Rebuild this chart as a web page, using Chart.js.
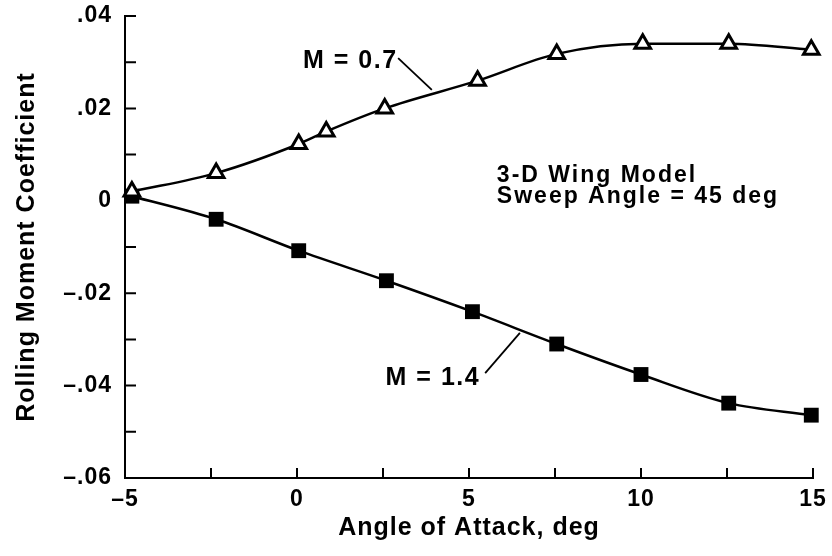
<!DOCTYPE html>
<html>
<head>
<meta charset="utf-8">
<script src="https://cdn.jsdelivr.net/npm/chart.js@4/dist/chart.umd.min.js"></script>
<style>
  html, body { margin: 0; padding: 0; background: #fff; }
  #wrap { width: 832px; height: 556px; position: relative; }
</style>
</head>
<body>
<div id="wrap"><canvas id="chart"></canvas></div>
<script>
// ---------- datos ----------
const alfaM07 = [-4.8, -2.35, 0.05, 0.85, 2.55, 5.25, 7.55, 10.05, 12.55, 14.95];
const clM07   = [0.002, 0.006, 0.0123, 0.015, 0.020, 0.026, 0.0318, 0.034, 0.034, 0.0327];

const alfaM14 = [-4.8, -2.35, 0.05, 2.6, 5.1, 7.55, 10.0, 12.55, 14.95];
const clM14   = [0.001, -0.004, -0.0108, -0.0173, -0.024, -0.031, -0.0376, -0.0438, -0.0464];

const xTickValores = [-5, 0, 5, 10, 15];
const xTickTextos  = ['–5', '0', '5', '10', '15'];
const yTickValores = [0.04, 0.02, 0, -0.02, -0.04, -0.06];
const yTickTextos  = ['.04', '.02', '0', '–.02', '–.04', '–.06'];

// rótulos sobre la gráfica (coordenadas en datos, y = línea base del texto)
const rotulos = [
  { texto: 'M = 0.7', x: 1.55, y: 0.0287, align: 'center', tam: 25, esp: 1.5, linea: [2.94, 0.0309, 3.92, 0.024] },
  { texto: 'M = 1.4', x: 3.95, y: -0.0399, align: 'center', tam: 25, esp: 1.5, linea: [5.47, -0.0373, 6.48, -0.0286] },
  { texto: '3-D Wing Model', x: 5.81, y: 0.0041, align: 'left', tam: 23, esp: 2 },
  { texto: 'Sweep Angle = 45 deg', x: 5.81, y: -0.0005, align: 'left', tam: 23, esp: 2 }
];

const FUENTE = '"Liberation Sans", Arial, Helvetica, sans-serif';

function pares(xs, ys) { return xs.map((x, i) => ({ x, y: ys[i] })); }

function etiqueta(valores, textos, v) {
  const i = valores.findIndex(t => Math.abs(t - v) < 1e-6);
  return i >= 0 ? textos[i] : '';
}

// letra algo más ancha, como en el original escaneado
const espaciado = {
  id: 'espaciado',
  beforeDraw(chart) {
    chart.ctx.letterSpacing = '1px';
  }
};

// marcas de escala hacia adentro
const marcasInternas = {
  id: 'marcasInternas',
  afterDraw(chart) {
    const ctx = chart.ctx;
    const { x, y } = chart.scales;
    ctx.save();
    ctx.strokeStyle = '#000';
    ctx.lineWidth = 2;
    ctx.beginPath();
    y.ticks.forEach(t => {
      const py = y.getPixelForValue(t.value);
      ctx.moveTo(x.left, py);
      ctx.lineTo(x.left + 11, py);
    });
    x.ticks.forEach(t => {
      const px = x.getPixelForValue(t.value);
      ctx.moveTo(px, y.bottom);
      ctx.lineTo(px, y.bottom - 10);
    });
    ctx.stroke();
    ctx.restore();
  }
};

// textos y líneas guía
const rotulosPlugin = {
  id: 'rotulosPlugin',
  afterDatasetsDraw(chart) {
    const ctx = chart.ctx;
    const { x, y } = chart.scales;
    ctx.save();
    ctx.fillStyle = '#000';
    ctx.strokeStyle = '#000';
    ctx.lineWidth = 1.8;
    ctx.textBaseline = 'alphabetic';
    rotulos.forEach(r => {
      ctx.font = 'bold ' + r.tam + 'px ' + FUENTE;
      ctx.letterSpacing = r.esp + 'px';
      ctx.textAlign = r.align;
      ctx.fillText(r.texto, x.getPixelForValue(r.x), y.getPixelForValue(r.y));
      if (r.linea) {
        ctx.beginPath();
        ctx.moveTo(x.getPixelForValue(r.linea[0]), y.getPixelForValue(r.linea[1]));
        ctx.lineTo(x.getPixelForValue(r.linea[2]), y.getPixelForValue(r.linea[3]));
        ctx.stroke();
      }
    });
    ctx.restore();
  }
};

new Chart(document.getElementById('chart'), {
  type: 'scatter',
  data: {
    datasets: [
      {
        label: 'M = 0.7',
        data: pares(alfaM07, clM07),
        showLine: true,
        borderColor: '#000',
        borderWidth: 2.5,
        cubicInterpolationMode: 'monotone',
        pointStyle: 'triangle',
        pointRadius: 9,
        pointBorderWidth: 3,
        pointBackgroundColor: '#fff',
        pointBorderColor: '#000',
        clip: false
      },
      {
        label: 'punto',
        data: pares(alfaM07, clM07),
        showLine: false,
        pointStyle: 'circle',
        pointRadius: 1,
        pointBackgroundColor: '#000',
        pointBorderWidth: 0,
        clip: false
      },
      {
        label: 'M = 1.4',
        data: pares(alfaM14, clM14),
        showLine: true,
        borderColor: '#000',
        borderWidth: 2.5,
        cubicInterpolationMode: 'monotone',
        pointStyle: 'rect',
        pointRadius: 10.5,
        pointBorderWidth: 0,
        pointBackgroundColor: '#000',
        clip: false
      }
    ]
  },
  options: {
    responsive: true,
    maintainAspectRatio: false,
    animation: false,
    layout: { padding: { top: 16, right: 19, left: 0, bottom: 0 } },
    plugins: {
      legend: { display: false },
      tooltip: { enabled: false }
    },
    scales: {
      x: {
        type: 'linear',
        min: -5,
        max: 15,
        afterFit: s => { s.height = 78; s.paddingLeft = 0; s.paddingRight = 0; },
        grid: { display: false, drawTicks: false },
        border: { display: true, color: '#000', width: 2 },
        ticks: {
          stepSize: 2.5,
          autoSkip: false,
          maxRotation: 0,
          padding: 8,
          color: '#000',
          font: { family: FUENTE, size: 23, weight: 'bold' },
          callback: v => etiqueta(xTickValores, xTickTextos, v)
        },
        title: {
          display: true,
          text: 'Angle of Attack, deg',
          color: '#000',
          font: { family: FUENTE, size: 25, weight: 'bold' },
          padding: { top: 13, bottom: 13 }
        }
      },
      y: {
        type: 'linear',
        min: -0.06,
        max: 0.04,
        afterFit: s => { s.width = 125; s.paddingTop = 0; s.paddingBottom = 0; },
        grid: { display: false, drawTicks: false },
        border: { display: true, color: '#000', width: 2 },
        ticks: {
          stepSize: 0.01,
          autoSkip: false,
          padding: 13,
          color: '#000',
          font: { family: FUENTE, size: 23, weight: 'bold' },
          callback: v => etiqueta(yTickValores, yTickTextos, v)
        },
        title: {
          display: true,
          text: 'Rolling Moment Coefficient',
          color: '#000',
          font: { family: FUENTE, size: 25, weight: 'bold' },
          padding: { top: 12, bottom: 12 }
        }
      }
    }
  },
  plugins: [espaciado, marcasInternas, rotulosPlugin]
});
</script>
</body>
</html>
